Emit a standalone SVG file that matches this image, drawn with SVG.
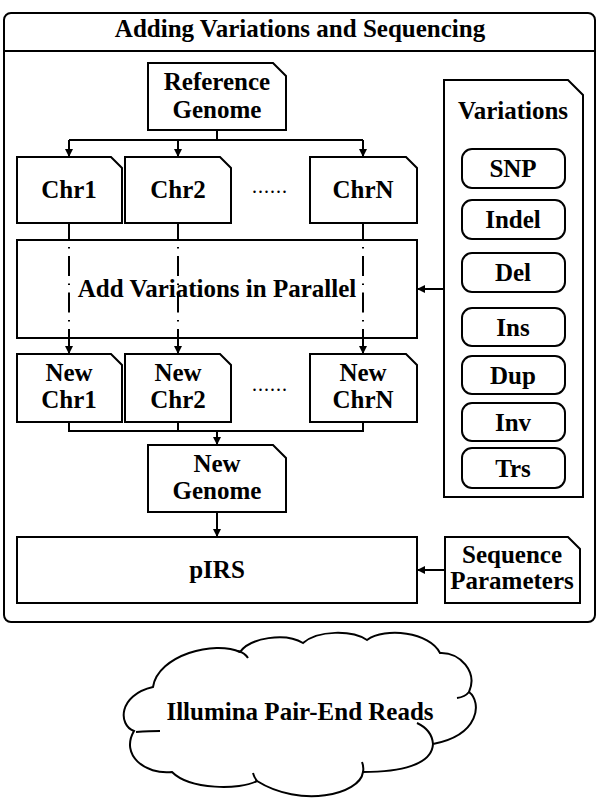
<svg xmlns="http://www.w3.org/2000/svg" width="600" height="800" viewBox="0 0 600 800">
<defs>
<style>
.box{fill:#fff;stroke:#000;stroke-width:2}
.t{font-family:"Liberation Serif","Times New Roman",serif;font-weight:bold;font-size:25px;fill:#000;text-anchor:middle}
.ln{fill:none;stroke:#000;stroke-width:2}
.dd{fill:none;stroke:#000;stroke-width:2;stroke-dasharray:1.5 7.5 20 7.5}
.dots{font-family:"Liberation Serif","Times New Roman",serif;font-size:20px;letter-spacing:1px;fill:#000;text-anchor:middle}
</style>
<marker id="ah" viewBox="0 0 10 10" refX="10" refY="5" markerWidth="8" markerHeight="8" markerUnits="userSpaceOnUse" orient="auto">
<path d="M0,0 L10,5 L0,10 Z" fill="#000"/>
</marker>
</defs>
<rect width="600" height="800" fill="#fff"/>

<g id="frame">
<rect x="4" y="13" width="591" height="609" rx="7" class="box"/>
<line x1="4" y1="51" x2="595" y2="51" class="ln"/>
<text x="300" y="37" class="t">Adding Variations and Sequencing</text>
</g>

<g id="connectors">
<polyline points="217,130 217,140" class="ln"/>
<polyline points="69,140 363,140" class="ln"/>
<line x1="69" y1="140" x2="69" y2="157" class="ln" marker-end="url(#ah)"/>
<line x1="178" y1="140" x2="178" y2="157" class="ln" marker-end="url(#ah)"/>
<line x1="363" y1="140" x2="363" y2="157" class="ln" marker-end="url(#ah)"/>
<line x1="69" y1="223" x2="69" y2="240" class="ln"/>
<line x1="178" y1="223" x2="178" y2="240" class="ln"/>
<line x1="363" y1="223" x2="363" y2="240" class="ln"/>
<line x1="69" y1="338" x2="69" y2="354" class="ln" marker-end="url(#ah)"/>
<line x1="178" y1="338" x2="178" y2="354" class="ln" marker-end="url(#ah)"/>
<line x1="363" y1="338" x2="363" y2="354" class="ln" marker-end="url(#ah)"/>
<polyline points="69,422 69,431 363,431 363,422" class="ln"/>
<line x1="178" y1="422" x2="178" y2="431" class="ln"/>
<line x1="217" y1="431" x2="217" y2="445" class="ln" marker-end="url(#ah)"/>
<line x1="217" y1="512" x2="217" y2="537" class="ln" marker-end="url(#ah)"/>
<line x1="444" y1="289" x2="417" y2="289" class="ln" marker-end="url(#ah)"/>
<line x1="445" y1="570" x2="417" y2="570" class="ln" marker-end="url(#ah)"/>
</g>

<g id="reference-genome">
<path d="M148,63 H273 L286,76 V130 H148 Z" class="box"/>
<text x="217" y="90" class="t">Reference</text>
<text x="217" y="118" class="t">Genome</text>
</g>

<g id="chr1">
<path d="M17,157 H111 L122,168 V223 H17 Z" class="box"/>
<text x="69" y="198" class="t">Chr1</text>
</g>
<g id="chr2">
<path d="M125,157 H220 L231,168 V223 H125 Z" class="box"/>
<text x="178" y="198" class="t">Chr2</text>
</g>
<text x="270" y="193" class="dots">......</text>
<g id="chrN">
<path d="M310,157 H406 L417,168 V223 H310 Z" class="box"/>
<text x="363" y="198" class="t">ChrN</text>
</g>

<g id="add-variations">
<rect x="17" y="240" width="400" height="98" class="box"/>
<text x="217" y="297" class="t">Add Variations in Parallel</text>
<line x1="69" y1="247" x2="69" y2="337" class="dd"/>
<line x1="178" y1="247" x2="178" y2="337" class="dd"/>
<line x1="363" y1="247" x2="363" y2="337" class="dd"/>
</g>

<g id="new-chr1">
<path d="M17,354 H111 L122,365 V422 H17 Z" class="box"/>
<text x="69" y="381" class="t">New</text>
<text x="69" y="408" class="t">Chr1</text>
</g>
<g id="new-chr2">
<path d="M125,354 H220 L231,365 V422 H125 Z" class="box"/>
<text x="178" y="381" class="t">New</text>
<text x="178" y="408" class="t">Chr2</text>
</g>
<text x="270" y="391" class="dots">......</text>
<g id="new-chrN">
<path d="M310,354 H406 L417,365 V422 H310 Z" class="box"/>
<text x="363" y="381" class="t">New</text>
<text x="363" y="408" class="t">ChrN</text>
</g>

<g id="new-genome">
<path d="M148,445 H273 L286,458 V512 H148 Z" class="box"/>
<text x="217" y="472" class="t">New</text>
<text x="217" y="499" class="t">Genome</text>
</g>

<g id="pirs">
<rect x="17" y="537" width="400" height="66" class="box"/>
<text x="217" y="578" class="t">pIRS</text>
</g>

<g id="sequence-parameters">
<path d="M445,537 H568 L580,549 V603 H445 Z" class="box"/>
<text x="512" y="563" class="t">Sequence</text>
<text x="512" y="589" class="t">Parameters</text>
</g>

<g id="variations">
<path d="M444,80 H568 L583,95 V497 H444 Z" class="box"/>
<text x="513" y="119" class="t">Variations</text>
<g id="snp"><rect x="462" y="149" width="103" height="39" rx="10" class="box"/><text x="513" y="177" class="t">SNP</text></g>
<g id="indel"><rect x="462" y="200" width="103" height="39" rx="10" class="box"/><text x="513" y="228" class="t">Indel</text></g>
<g id="del"><rect x="462" y="253" width="103" height="39" rx="10" class="box"/><text x="513" y="281" class="t">Del</text></g>
<g id="ins"><rect x="462" y="308" width="103" height="38" rx="10" class="box"/><text x="513" y="336" class="t">Ins</text></g>
<g id="dup"><rect x="462" y="356" width="103" height="38" rx="10" class="box"/><text x="513" y="384" class="t">Dup</text></g>
<g id="inv"><rect x="462" y="403" width="103" height="38" rx="10" class="box"/><text x="513" y="431" class="t">Inv</text></g>
<g id="trs"><rect x="462" y="448" width="103" height="40" rx="10" class="box"/><text x="513" y="477" class="t">Trs</text></g>
</g>

<g id="illumina-reads">
<path d="M153,687 C158,655 215,640 240,652 C250,638 285,632 303,643 C318,630 352,630 367,640 C385,627 430,632 440,653 C460,652 478,672 469,692 C482,702 480,735 433,744 C432,765 400,772 363,772 C360,795 300,808 257,781 C240,790 190,790 172,772 C145,775 120,755 134,731 C118,725 118,695 153,687 Z" class="box"/>
<path d="M238,651 Q245,653 248,658 M469,692 Q465,697 457,698 M433,744 Q432,730 417,723 M363,772 Q364,767 362,762 M257,781 Q254,777 253,773 M136,732 Q150,731 160,731" class="ln"/>
<text x="300" y="720" class="t">Illumina Pair-End Reads</text>
</g>
</svg>
